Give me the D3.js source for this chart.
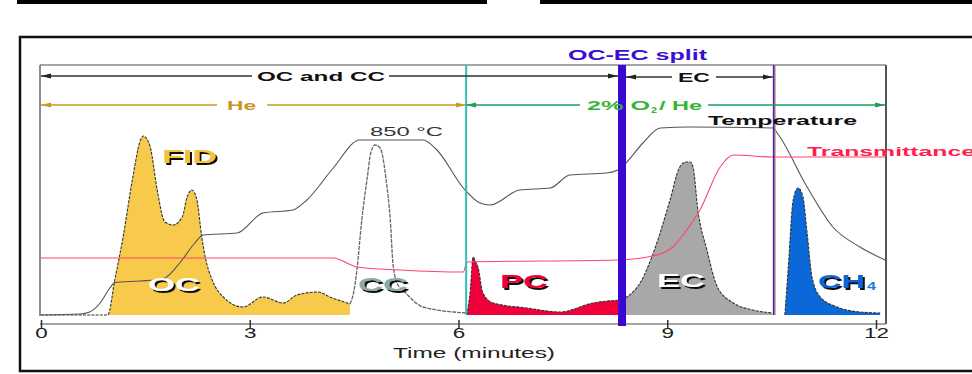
<!DOCTYPE html>
<html>
<head>
<meta charset="utf-8">
<script src="https://cdn.jsdelivr.net/npm/d3@7"></script>
<style>
    html, body { margin: 0; padding: 0; background: #fff; }
    svg { display: block; font-family: "Liberation Sans", Arial, sans-serif; }
</style>
</head>
<body>
<div id="chart"></div>
<script>

// ------------------------------------------------------------------
// Data (time in minutes, signal in % of plot height)
// ------------------------------------------------------------------
var tickMinutes = [0, 3, 6, 9, 12];

var temperatureTrace = [
    [0, 0], [0.56, 0.4], [0.70, 1.2], [0.85, 4.8], [0.99, 10.8], [1.06, 13], [1.42, 13.6],
    [1.75, 14.4], [2.0, 21], [2.21, 28.8], [2.33, 32], [2.82, 32.8], [3.19, 40.8], [3.62, 42],
    [3.82, 46], [4.20, 58.8], [4.58, 70], [5.49, 70], [5.69, 66], [6.07, 50.8], [6.31, 44.8],
    [6.45, 44], [6.88, 50], [7.32, 50.8], [7.60, 56], [8.13, 56.8], [8.29, 58], [8.42, 61.2],
    [8.65, 68.8], [8.90, 74.8], [9.33, 75.2], [10.52, 74.8], [10.58, 72.8], [11.01, 51.2],
    [11.38, 35.2], [11.77, 27.2], [12.13, 22]
];

var transmittanceTrace = [
    [0, 22.8], [4.20, 22.8], [4.54, 19.2], [5.16, 18], [6.07, 17.2], [6.12, 21.2], [8.28, 22],
    [8.85, 24], [9.08, 27.2], [9.33, 36], [9.47, 42], [9.76, 59.2], [9.95, 64], [10.52, 63.2],
    [12.14, 63.2]
];

var ocPeak = [
    [0, 0], [0.96, 0], [1.06, 14], [1.18, 31.2], [1.32, 55.2], [1.43, 70], [1.47, 71.6],
    [1.52, 70.5], [1.57, 67.2], [1.67, 50], [1.78, 37.2], [1.90, 36], [2.03, 39.2], [2.10, 47.2],
    [2.17, 50], [2.24, 46], [2.31, 31.2], [2.36, 23.2], [2.46, 14], [2.62, 7.2], [2.90, 3.2],
    [3.19, 7.2], [3.48, 4.8], [3.68, 8], [3.98, 9.2], [4.15, 7.2], [4.40, 4.8], [4.44, 4.4]
];

var ccPeak = [
    [4.44, 4.4], [4.50, 10], [4.54, 18], [4.61, 38], [4.69, 55.2], [4.74, 65], [4.80, 68],
    [4.86, 67.2], [4.90, 64.8], [4.96, 54], [5.02, 38], [5.06, 20], [5.13, 12], [5.20, 10],
    [5.49, 3.2], [6.11, 0.8]
];

var pcPeak = [
    [6.12, 0], [6.17, 10], [6.21, 23.2], [6.25, 21], [6.28, 19.2], [6.35, 8.8], [6.50, 4.8],
    [6.98, 2.8], [7.46, 1.2], [7.93, 4.8], [8.35, 6]
];

var ecPeak = [
    [8.35, 6], [8.42, 7.2], [8.61, 12.8], [8.85, 28.8], [9.04, 46], [9.18, 59.2], [9.27, 61.2],
    [9.33, 61.2], [9.37, 59.2], [9.44, 42], [9.57, 26], [9.72, 11.2], [9.95, 4.8], [10.23, 2],
    [10.51, 0.8]
];

var ch4Peak = [
    [10.69, 0], [10.74, 19.2], [10.81, 46], [10.88, 50.8], [10.95, 47.2], [11.01, 32.8],
    [11.08, 15.2], [11.20, 7.2], [11.44, 3.2], [11.77, 1.2], [12.06, 0.8]
];

var oxygenStart = 6.11;
var ocEcSplit = 8.35;
var ch4Start = 10.53;
var runEnd = 12.13;

var phaseLabels = ['OC and CC', 'EC'];
var phaseBounds = [[0, ocEcSplit], [ocEcSplit, ch4Start]];
var carrierLabels = ['He', '2% O', '2', '/ He'];
var carrierBounds = [[0, oxygenStart], [oxygenStart, runEnd]];

// ------------------------------------------------------------------
// Setup
// ------------------------------------------------------------------
var width = 972, height = 374;
var font = '"Liberation Sans", Arial, sans-serif';

var svg = d3.select('#chart').append('svg')
    .attr('width', width)
    .attr('height', height);

var x = d3.scaleLinear().domain([0, 12]).range([41, 876]);
var y = d3.scaleLinear().domain([0, 100]).range([315, 65]);

var defs = svg.append('defs');
function AddMarker(id, color) {
    defs.append('marker')
        .attr('id', id)
        .attr('viewBox', '0 0 10 6')
        .attr('refX', 10).attr('refY', 3)
        .attr('markerUnits', 'userSpaceOnUse')
        .attr('markerWidth', 10).attr('markerHeight', 6)
        .attr('orient', 'auto-start-reverse')
        .append('path')
        .attr('d', 'M0,0.5 L10,3 L0,5.5 Z')
        .attr('fill', color);
}
AddMarker('arrowDark', '#222');
AddMarker('arrowGold', '#C69A24');
AddMarker('arrowGreen', '#1E9C5E');

// hard black drop shadow for the peak labels
defs.append('filter')
    .attr('id', 'labelShadow')
    .attr('x', '-10%').attr('y', '-20%').attr('width', '130%').attr('height', '150%')
    .append('feDropShadow')
    .attr('dx', 2).attr('dy', 2).attr('stdDeviation', 0.4)
    .attr('flood-color', '#111').attr('flood-opacity', 1);

// outer frame + top bars
svg.append('rect').attr('x', 17).attr('y', 0).attr('width', 470).attr('height', 4).attr('fill', '#000');
svg.append('rect').attr('x', 540).attr('y', 0).attr('width', 440).attr('height', 4).attr('fill', '#000');
svg.append('rect')
    .attr('x', 20).attr('y', 37).attr('width', 980).attr('height', 334)
    .attr('fill', 'none').attr('stroke', '#111').attr('stroke-width', 2.5);

// ------------------------------------------------------------------
// Peaks
// ------------------------------------------------------------------
var area = d3.area()
    .x(function(d) { return x(d[0]); })
    .y0(y(0))
    .y1(function(d) { return y(d[1]); })
    .curve(d3.curveMonotoneX);

var line = d3.line()
    .x(function(d) { return x(d[0]); })
    .y(function(d) { return y(d[1]); })
    .curve(d3.curveMonotoneX);

var fills = [
    { data: ocPeak, color: '#F8CA4C' },
    { data: pcPeak, color: '#F0003A' },
    { data: ecPeak, color: '#A8A8A8' },
    { data: ch4Peak, color: '#0A68D8' }
];

fills.forEach(function(f) {
    svg.append('path').attr('d', area(f.data)).attr('fill', f.color);
});
fills.forEach(function(f) {
    svg.append('path').attr('d', line(f.data))
        .attr('fill', 'none').attr('stroke', '#333')
        .attr('stroke-width', 1.1).attr('stroke-dasharray', '3,1.2');
});
svg.append('path').attr('d', line(ccPeak))
    .attr('fill', 'none').attr('stroke', '#666')
    .attr('stroke-width', 1.3).attr('stroke-dasharray', '4,1');

// temperature + transmittance
svg.append('path').attr('d', line(temperatureTrace))
    .attr('fill', 'none').attr('stroke', '#555').attr('stroke-width', 1.1);
svg.append('path').attr('d', line(transmittanceTrace))
    .attr('fill', 'none').attr('stroke', '#FF4466').attr('stroke-width', 1.1);

// ------------------------------------------------------------------
// Plot frame + axis
// ------------------------------------------------------------------
var frameLeft = 40, frameRight = 886, frameTop = 65, axisY = 324;
svg.append('line').attr('x1', frameLeft).attr('x2', frameRight).attr('y1', frameTop).attr('y2', frameTop)
    .attr('stroke', '#888').attr('stroke-width', 1.5);
svg.append('line').attr('x1', frameLeft).attr('x2', frameLeft).attr('y1', frameTop).attr('y2', 316)
    .attr('stroke', '#666').attr('stroke-width', 1.5);
svg.append('line').attr('x1', frameRight).attr('x2', frameRight).attr('y1', frameTop).attr('y2', axisY)
    .attr('stroke', '#555').attr('stroke-width', 2);
svg.append('line').attr('x1', frameLeft).attr('x2', frameRight).attr('y1', axisY).attr('y2', axisY)
    .attr('stroke', '#888').attr('stroke-width', 1.5);

var axisG = svg.append('g')
    .attr('transform', 'translate(0,' + axisY + ')')
    .call(d3.axisBottom(x).tickValues(tickMinutes).tickSize(5).tickFormat(d3.format('d')));
axisG.select('.domain').remove();
axisG.attr('font-family', font).attr('font-size', 14);
axisG.selectAll('.tick line').attr('y1', -4).attr('y2', 5).attr('stroke', '#333').attr('stroke-width', 1.5);
axisG.selectAll('.tick text')
    .attr('y', 4).attr('fill', '#222')
    .attr('textLength', function(d) { return String(d).length * 12.5; })
    .attr('lengthAdjust', 'spacingAndGlyphs');

function AddText(txt, px, py, opts) {
    return svg.append('text')
        .attr('x', px).attr('y', py)
        .attr('font-size', opts.size)
        .attr('font-weight', opts.weight || 'normal')
        .attr('fill', opts.color)
        .attr('textLength', opts.length)
        .attr('lengthAdjust', 'spacingAndGlyphs')
        .text(txt);
}

AddText('Time (minutes)', 393, 358, { size: 14, color: '#222', length: 162 });

// ------------------------------------------------------------------
// Vertical markers
// ------------------------------------------------------------------
svg.append('line').attr('x1', x(oxygenStart)).attr('x2', x(oxygenStart)).attr('y1', frameTop).attr('y2', 315)
    .attr('stroke', '#2CC0B8').attr('stroke-width', 2);
svg.append('line').attr('x1', x(ch4Start) + 1.5).attr('x2', x(ch4Start) + 1.5).attr('y1', frameTop).attr('y2', 315)
    .attr('stroke', '#D8A860').attr('stroke-width', 1.2);
svg.append('line').attr('x1', x(ch4Start)).attr('x2', x(ch4Start)).attr('y1', frameTop).attr('y2', 315)
    .attr('stroke', '#5020B0').attr('stroke-width', 1.8);
svg.append('line').attr('x1', x(ocEcSplit)).attr('x2', x(ocEcSplit)).attr('y1', frameTop).attr('y2', 326)
    .attr('stroke', '#3A06D2').attr('stroke-width', 8);

AddText('OC-EC split', 568, 60, { size: 14, weight: 'bold', color: '#3A10D0', length: 139 });

// ------------------------------------------------------------------
// Phase arrows
// ------------------------------------------------------------------
function DrawArrow(x1, x2, yy, gapL, gapR, color, marker) {
    svg.append('line').attr('x1', x1).attr('x2', gapL).attr('y1', yy).attr('y2', yy)
        .attr('stroke', color).attr('stroke-width', 1.3)
        .attr('marker-start', 'url(#' + marker + ')');
    svg.append('line').attr('x1', gapR).attr('x2', x2).attr('y1', yy).attr('y2', yy)
        .attr('stroke', color).attr('stroke-width', 1.3)
        .attr('marker-end', 'url(#' + marker + ')');
}

// OC and CC / EC
DrawArrow(x(phaseBounds[0][0]), x(phaseBounds[0][1]) - 4, 76, 252, 389, '#333', 'arrowDark');
AddText(phaseLabels[0], 257, 80.5, { size: 13, weight: 'bold', color: '#111', length: 128 });
DrawArrow(x(phaseBounds[1][0]) + 4, x(phaseBounds[1][1]) - 1, 77, 672, 716, '#333', 'arrowDark');
AddText(phaseLabels[1], 678, 82, { size: 13, weight: 'bold', color: '#111', length: 32 });

// carrier gas
DrawArrow(x(carrierBounds[0][0]), x(carrierBounds[0][1]), 105, 217, 267, '#C69A24', 'arrowGold');
AddText(carrierLabels[0], 227, 110, { size: 13, weight: 'bold', color: '#C8961E', length: 29 });
DrawArrow(x(carrierBounds[1][0]), x(carrierBounds[1][1]), 105, 580, 708, '#1E9C5E', 'arrowGreen');
AddText(carrierLabels[1], 587, 110, { size: 13, weight: 'bold', color: '#34B534', length: 63 });
AddText(carrierLabels[2], 651, 113, { size: 9, weight: 'bold', color: '#34B534', length: 6 });
AddText(carrierLabels[3], 659, 110, { size: 13, weight: 'bold', color: '#34B534', length: 43 });

// ------------------------------------------------------------------
// Trace labels
// ------------------------------------------------------------------
AddText('850 °C', 370, 136, { size: 13, color: '#333', length: 73 });
AddText('Temperature', 708, 125, { size: 13, weight: 'bold', color: '#111', length: 149 });
AddText('Transmittance', 807, 156, { size: 13, weight: 'bold', color: '#FF1E4E', length: 168 });

function ShadowLabel(txt, px, py, color, length, size) {
    AddText(txt, px, py, { size: size, weight: 'bold', color: color, length: length })
        .attr('filter', 'url(#labelShadow)');
}

ShadowLabel('FID', 162, 163, '#F6C23A', 55, 19);
ShadowLabel('OC', 148, 291, '#FFFFFF', 52, 18);
ShadowLabel('CC', 358, 291, '#8FA8A8', 50, 18);
ShadowLabel('PC', 500, 288, '#EE0032', 48, 18);
ShadowLabel('EC', 657, 287, '#FFFFFF', 48, 18);
ShadowLabel('CH', 818, 288, '#0B62D4', 47, 18);
AddText('4', 867, 290, { size: 11, weight: 'bold', color: '#1E78E0', length: 9 });

</script>
</body>
</html>
